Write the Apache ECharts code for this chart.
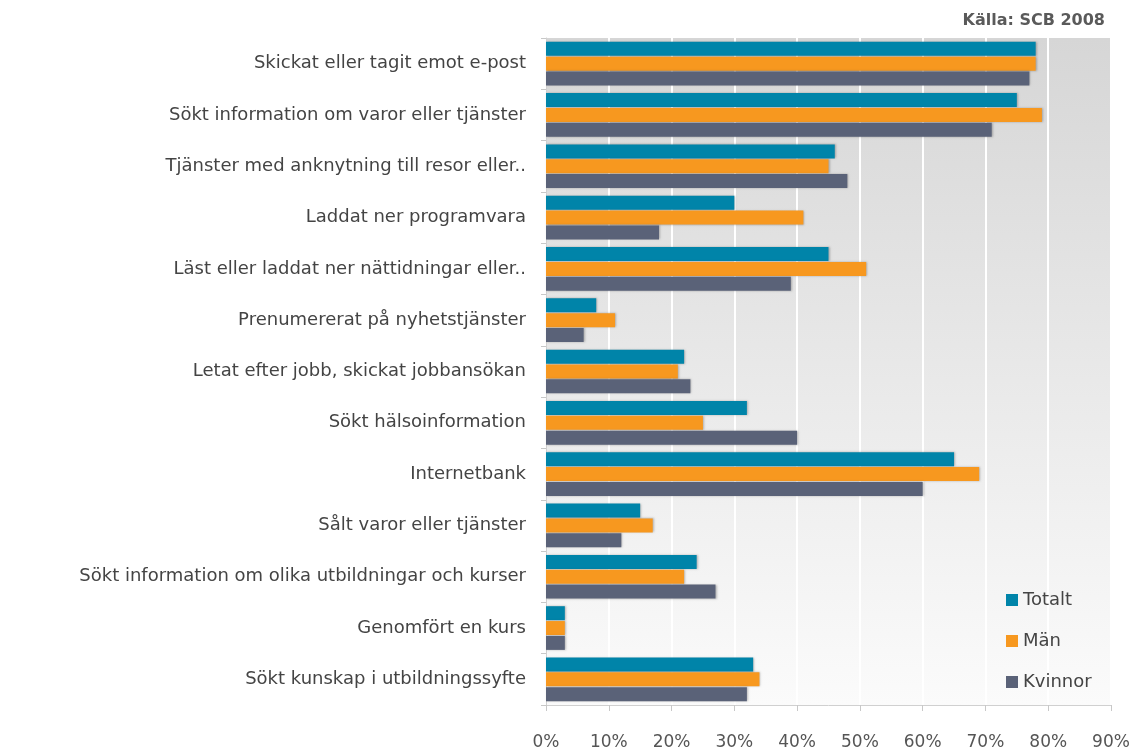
<!DOCTYPE html>
<html style="height: 100%">
<head>
    <meta charset="UTF-8">
    <script src="https://cdn.jsdelivr.net/npm/echarts@6/dist/echarts.min.js"></script>
</head>
<body style="height: 100%; margin: 0; background: #fff">
    <div id="main" style="width: 1137px; height: 753px;"></div>
    <script type="text/javascript">
        // Data (percent)
        var categories = [
            'Skickat eller tagit emot e-post',
            'Sökt information om varor eller tjänster',
            'Tjänster med anknytning till resor eller..',
            'Laddat ner programvara',
            'Läst eller laddat ner nättidningar eller..',
            'Prenumererat på nyhetstjänster',
            'Letat efter jobb, skickat jobbansökan',
            'Sökt hälsoinformation',
            'Internetbank',
            'Sålt varor eller tjänster',
            'Sökt information om olika utbildningar och kurser',
            'Genomfört en kurs',
            'Sökt kunskap i utbildningssyfte'
        ];
        var seriesNames = ['Totalt', 'Män', 'Kvinnor'];
        var totalt  = [78, 75, 46, 30, 45, 8, 22, 32, 65, 15, 24, 3, 33];
        var man     = [78, 79, 45, 41, 51, 11, 21, 25, 69, 17, 22, 3, 34];
        var kvinnor = [77, 71, 48, 18, 39, 6, 23, 40, 60, 12, 27, 3, 32];
        var colors = ['#0084a9', '#f7981f', '#5a6278'];

        var myChart = echarts.init(document.getElementById('main'));
        var font = 'DejaVu Sans, Verdana, sans-serif';

        function bar(name, data, color) {
            return {
                name: name,
                type: 'bar',
                data: data,
                barWidth: 14,
                barGap: '6%',
                itemStyle: {
                    color: color,
                    shadowBlur: 2,
                    shadowColor: 'rgba(0,0,0,0.25)',
                    shadowOffsetX: 1
                }
            };
        }

        var option = {
            animation: false,
            textStyle: { fontFamily: font },
            title: {
                text: 'Källa: SCB 2008',
                right: 27,
                top: 8,
                textStyle: { fontSize: 16, fontWeight: 'bold', color: '#5a5a5a', fontFamily: font }
            },
            legend: {
                orient: 'vertical',
                left: 1001,
                top: 586,
                itemWidth: 12,
                itemHeight: 12,
                itemGap: 23,
                icon: 'rect',
                data: seriesNames,
                textStyle: { fontSize: 18, color: '#444', fontFamily: font }
            },
            grid: {
                left: 546,
                right: 26,
                top: 38,
                bottom: 48,
                show: true,
                borderWidth: 0,
                backgroundColor: new echarts.graphic.LinearGradient(0, 0, 0, 1, [
                    { offset: 0, color: '#d6d6d6' },
                    { offset: 1, color: '#fbfbfb' }
                ])
            },
            xAxis: {
                type: 'value',
                min: 0,
                max: 90,
                interval: 10,
                axisLine: { show: true, lineStyle: { color: '#d0d0d0' } },
                axisTick: { show: true, length: 6, lineStyle: { color: '#c8c8c8' } },
                axisLabel: {
                    formatter: '{value}%',
                    fontSize: 17,
                    color: '#555',
                    margin: 29,
                    fontFamily: font
                },
                splitLine: { show: true, lineStyle: { color: '#ffffff', width: 2 } }
            },
            yAxis: {
                type: 'category',
                data: categories,
                inverse: true,
                axisLine: { show: true, lineStyle: { color: '#d0d0d0' } },
                axisTick: { show: true, length: 5, lineStyle: { color: '#c8c8c8' } },
                axisLabel: {
                    fontSize: 18,
                    color: '#444',
                    margin: 20,
                    fontFamily: font
                }
            },
            series: [
                bar(seriesNames[0], totalt, colors[0]),
                bar(seriesNames[1], man, colors[1]),
                bar(seriesNames[2], kvinnor, colors[2])
            ]
        };

        myChart.setOption(option);
    </script>
</body>
</html>
